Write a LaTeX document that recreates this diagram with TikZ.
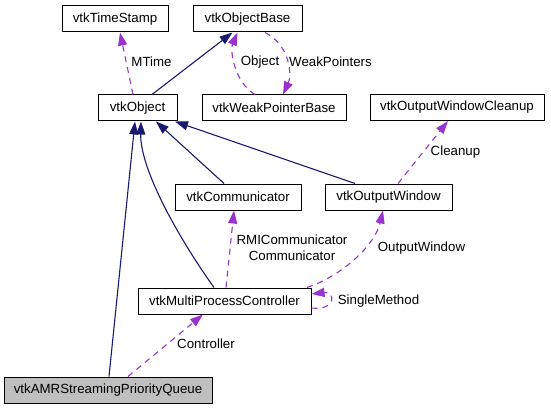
\documentclass[tikz,border=0pt]{standalone}
\usepackage{fontspec}
\setmainfont{Liberation Sans}
\usetikzlibrary{arrows.meta}
\definecolor{edgeblue}{HTML}{191970}
\definecolor{edgepurple}{HTML}{9A32CD}
\definecolor{nodegray}{HTML}{BFBFBF}
\begin{document}
\begin{tikzpicture}[x=1pt,y=-1pt,
  cls/.style={draw=black, line width=1pt, fill=white, inner sep=0pt, minimum height=26pt, font=\fontsize{13.3}{16}\selectfont},
  inh/.style={draw=edgeblue, line width=1.1pt, -{Triangle[length=13pt,width=9pt]}},
  use/.style={draw=edgepurple, line width=1.1pt, dash pattern=on 6pt off 5pt, -{Triangle[length=13pt,width=9pt]}},
  lbl/.style={font=\fontsize{13.3}{16}\selectfont, inner sep=0pt, align=center}]
\path[use as bounding box] (0,0) rectangle (551,409);
% nodes
\node[cls, minimum width=106pt] (ts) at (115,19) {vtkTimeStamp};
\node[cls, minimum width=109pt] (ob) at (247.5,19) {vtkObjectBase};
\node[cls, minimum width=79pt] (obj) at (137.5,108) {vtkObject};
\node[cls, minimum width=144pt] (wpb) at (274,108) {vtkWeakPointerBase};
\node[cls, minimum width=174pt] (owc) at (457,107.5) {vtkOutputWindowCleanup};
\node[cls, minimum width=126pt] (comm) at (238,197) {vtkCommunicator};
\node[cls, minimum width=127pt] (ow) at (388.5,197) {vtkOutputWindow};
\node[cls, minimum width=173pt] (mpc) at (224.5,301) {vtkMultiProcessController};
\node[cls, fill=nodegray, minimum width=208pt] (amr) at (108,390) {vtkAMRStreamingPriorityQueue};
% inheritance edges
\draw[inh] ([xshift=1pt]amr.north) -- ([xshift=-2.5pt]obj.south);
\draw[inh] ([xshift=-10.5pt]mpc.north) .. controls (180,240) and (140,170) .. ([xshift=3.5pt]obj.south);
\draw[inh] ([xshift=-14pt]comm.north) -- ([xshift=18.5pt]obj.south);
\draw[inh] ([xshift=-33.5pt]ow.north) -- ([xshift=37.5pt]obj.south);
\draw[inh] ([xshift=14.5pt]obj.north) -- ([xshift=-15pt]ob.south);
% usage edges
\draw[use] ([xshift=-4.5pt]obj.north) -- ([xshift=5pt]ts.south);
\draw[use] ([xshift=-19pt]wpb.north) .. controls (234,82) and (230,50) .. ([xshift=-10pt]ob.south);
\draw[use] ([xshift=17.5pt]ob.south) .. controls (290,45) and (292,75) .. ([xshift=9pt]wpb.north);
\draw[use] ([xshift=9.5pt]ow.north) -- ([xshift=-9pt]owc.south);
\draw[use] ([xshift=1.5pt]mpc.north) -- ([xshift=-4pt]comm.south);
\draw[use] ([xshift=82.5pt]mpc.north) .. controls (342,276) and (375,245) .. ([xshift=-5.5pt]ow.south);
\draw[use] ([yshift=-7pt]mpc.east) .. controls (336,311) and (336,291) .. ([yshift=7pt]mpc.east);
\draw[use] ([xshift=20pt]amr.north) -- ([xshift=-21.5pt]mpc.south);
% labels
\node[lbl] (lmtime) at (151.5,62) {MTime};
\node[lbl] (lobject) at (260,62) {Object};
\node[lbl] (lweak) at (330.5,62) {WeakPointers};
\node[lbl] (lcleanup) at (455.5,152) {Cleanup};
\node[lbl] (lrmi) at (292,248) {RMICommunicator\\Communicator};
\node[lbl] (low) at (421.5,248) {OutputWindow};
\node[lbl] (lsingle) at (378.5,301) {SingleMethod};
\node[lbl] (lctrl) at (206,344) {Controller};
\end{tikzpicture}
\end{document}
